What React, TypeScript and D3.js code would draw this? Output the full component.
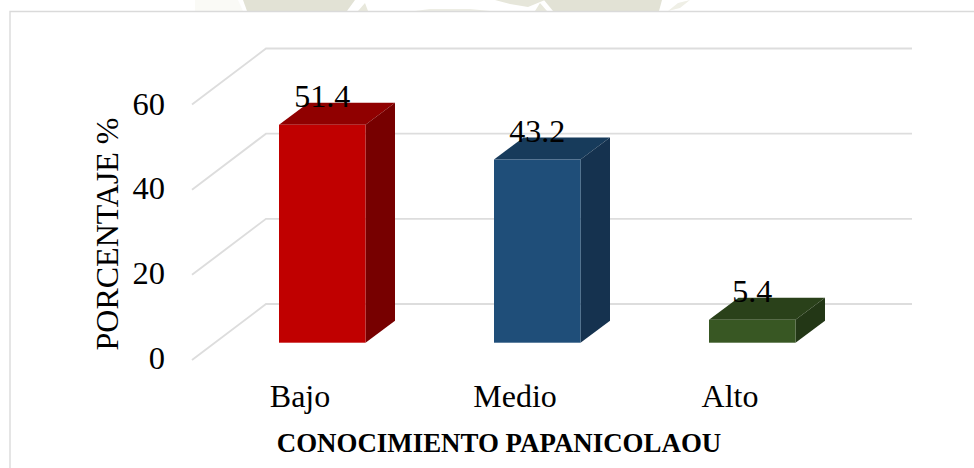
import React from "react";
import * as d3 from "d3";

const categories = ["Bajo", "Medio", "Alto"];
const values = [51.4, 43.2, 5.4];
const valueLabels = ["51.4", "43.2", "5.4"];
const yTicks = [0, 20, 40, 60];
const faceColors = ["#C00000", "#1F4E79", "#385723"];
const topColors = ["#900000", "#173B5B", "#2A411A"];
const sideColors = ["#770000", "#15324F", "#233716"];
const yTitle = "PORCENTAJE %";
const xTitle = "CONOCIMIENTO PAPANICOLAOU";

const W = 974;
const H = 468;
const font = "'Liberation Serif', 'Times New Roman', serif";

export default function App() {
  const frontY = d3.scaleLinear().domain([0, 60]).range([342.7, 88.3]);
  const backY = d3.scaleLinear().domain([0, 60]).range([304, 48.5]);
  const bw = 86.5;
  const step = 215;
  const x0 = 279;
  const barX = (i: number) => x0 + i * step;
  const dx = 29.5;
  const dy = 22;
  const line = d3.line();
  const poly = (pts: [number, number][]) => line(pts)! + "Z";
  return (
    <svg
      width={W}
      height={H}
      viewBox={`0 0 ${W} ${H}`}
      style={{ position: "fixed", left: 0, top: 0, background: "#fff" }}
    >
      <path d="M195 0 L238 0 L243 11 L195 11 Z" fill="#FAFAF6" />
      <path d="M243 0 L355 0 L347 11 L247 11 Z" fill="#E2E2D5" />
      <path d="M358 11 L365 3 L368 11 Z" fill="#E8E8DC" />
      <path d="M415 11 L490 11 L470 9 L430 9 Z" fill="#EDEDE4" />
      <path d="M495 0 L545 0 L528 7 L510 4 Z" fill="#E6E6DA" />
      <path d="M535 11 L540 3 L547 11 Z" fill="#E8E8DC" />
      <path d="M544 0 L662 0 L659 11 L553 11 Z" fill="#E2E2D5" />
      <path d="M668 11 L678 3 L690 0 L680 8 Z" fill="#EFEFE6" />
      <path d="M10 468 L10 11.5 L974 11.5" fill="none" stroke="#DADADA" strokeWidth={1.4} />
      {yTicks.map((t) => (
        <g key={t}>
          <path
            d={d3.line()([
              [192, backY(t) + 56],
              [266, backY(t)],
              [912, backY(t)],
            ])!}
            fill="none"
            stroke="#DDDDDD"
            strokeWidth={1.9}
          />
          <text
            x={165}
            y={frontY(t) + 26.3}
            textAnchor="end"
            fontFamily={font}
            fontSize={32.5}
            fill="#000"
          >
            {t}
          </text>
        </g>
      ))}
      <text
        transform="translate(118 234) rotate(-90)"
        textAnchor="middle"
        fontFamily={font}
        fontSize={32}
        fill="#000"
      >
        {yTitle}
      </text>
      {categories.map((c, i) => {
        const l = barX(i);
        const r = l + bw;
        const b = frontY(0);
        const t = frontY(values[i]);
        return (
          <g key={c}>
            <path d={poly([[l, t], [l + dx, t - dy], [r + dx, t - dy], [r, t]])} fill={topColors[i]} />
            <path d={poly([[r, t], [r + dx, t - dy], [r + dx, b - dy], [r, b]])} fill={sideColors[i]} />
            <rect x={l} y={t} width={bw} height={b - t} fill={faceColors[i]} />
            <text
              x={l + bw / 2}
              y={t - 18}
              textAnchor="middle"
              fontFamily={font}
              fontSize={32}
              fill="#000"
            >
              {valueLabels[i]}
            </text>
            <text
              x={[300, 515, 730][i]}
              y={407}
              textAnchor="middle"
              fontFamily={font}
              fontSize={32}
              fill="#000"
            >
              {c}
            </text>
          </g>
        );
      })}
      <text
        x={499}
        y={452}
        textAnchor="middle"
        fontFamily={font}
        fontSize={26.9}
        fontWeight="bold"
        fill="#000"
      >
        {xTitle}
      </text>
    </svg>
  );
}
